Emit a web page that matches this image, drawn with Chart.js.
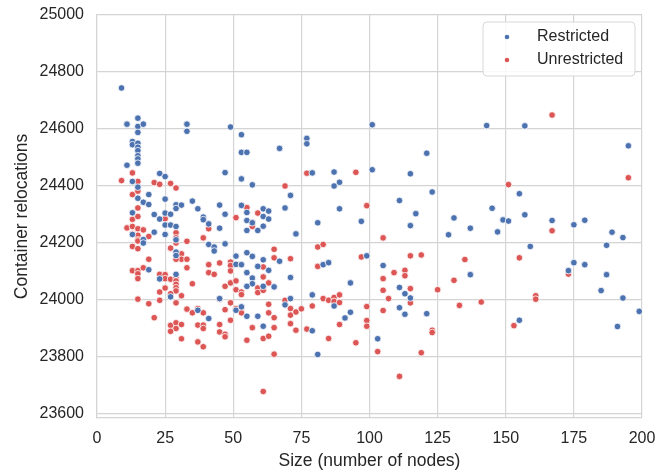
<!DOCTYPE html>
<html>
<head>
<meta charset="utf-8">
<script src="https://cdn.jsdelivr.net/npm/chart.js@4/dist/chart.umd.min.js"></script>
<style>
  html, body { margin: 0; padding: 0; background: #fff; }
</style>
</head>
<body>
<canvas id="chart" width="670" height="472"></canvas>
<script>
const xTicks = [0, 25, 50, 75, 100, 125, 150, 175, 200];
const yTicks = [23600, 23800, 24000, 24200, 24400, 24600, 24800, 25000];
const seriesNames = ['Restricted', 'Unrestricted'];
const seriesColors = ['#4c72b0', '#dd5656'];

// [size, relocations]
const restricted = [
    [9,24744],[15,24638],[11,24617],[15,24609],[17,24617],[15,24588],[33,24617],[33,24592],[13,24556],[13,24545],
    [15,24550],[15,24536],[15,24524],[15,24506],[15,24495],[15,24480],[11,24473],[23,24444],[25,24433],[13,24416],
    [15,24396],[15,24357],[19,24370],[17,24343],[19,24335],[29,24334],[31,24333],[29,24321],[25,24354],[13,24306],
    [21,24300],[25,24305],[27,24301],[23,24284],[25,24263],[27,24263],[29,24258],[21,24238],[25,24230],[17,24212],
    [29,24211],[13,24230],[17,24200],[29,24168],[29,24156],[19,24106],[23,24074],[29,24090],[27,24011],
    [49,24607],[53,24580],[53,24518],[55,24518],[67,24532],[47,24447],[53,24425],[57,24404],[35,24347],[37,24320],
    [45,24333],[39,24291],[39,24282],[47,24301],[41,24267],[45,24252],[53,24332],[55,24307],[55,24279],[61,24320],
    [63,24312],[61,24293],[63,24284],[55,24244],[59,24244],[61,24259],[57,24271],
    [41,24195],[43,24186],[43,24172],[47,24197],[51,24154],[51,24125],[53,24124],[55,24166],[57,24153],[61,24141],
    [59,24118],[63,24104],[55,24096],[57,24077],[57,24057],[55,24048],[61,24048],[65,24046],[67,24136],[45,24005],
    [37,23964],[41,23935],[51,23964],[53,23976],[55,23943],[59,23943],[61,23908],
    [101,24615],[77,24567],[77,24548],[79,24446],[87,24449],[101,24457],[89,24413],[87,24400],[71,24367],[69,24323],
    [89,24320],[81,24271],[97,24276],[73,24232],
    [83,24124],[85,24131],[71,24079],[93,24060],[99,24155],[79,24018],[71,24005],[69,23983],[87,23979],[93,23957],
    [91,23937],[79,23892],[81,23809],
    [143,24612],[121,24515],[115,24443],[123,24379],[111,24349],[117,24303],[115,24261],[145,24322],[131,24288],
    [137,24252],[149,24281],[151,24277],[129,24229],[147,24239],
    [105,24121],[137,24089],[111,24044],[113,24022],[115,24007],[111,23973],[113,23950],[121,23952],[103,23864],
    [157,24611],[195,24541],[155,24373],[157,24299],[167,24279],[175,24264],[179,24280],[189,24238],[193,24219],
    [159,24188],[175,24131],[179,24124],[173,24103],[187,24192],[187,24089],[185,24033],[193,24007],[199,23960],
    [155,23929],[191,23907]
];

const unrestricted = [
    [13,24446],[9,24419],[15,24416],[21,24412],[23,24406],[27,24409],[29,24393],[13,24370],[15,24382],[15,24323],
    [13,24283],[15,24293],[25,24285],[11,24253],[13,24258],[15,24250],[17,24246],[13,24232],[15,24227],[19,24223],
    [29,24236],[15,24211],
    [15,24207],[13,24188],[15,24180],[27,24182],[29,24200],[29,24218],[31,24162],[33,24206],[31,24143],[33,24143],
    [33,24113],[29,24143],[19,24143],[13,24103],[15,24103],[17,24113],[15,24092],[15,24075],[23,24090],[25,24089],
    [25,24075],[27,24073],[29,24078],[29,24067],[29,24055],[29,24043],[29,24032],[25,24042],[23,24028],[27,24022],
    [31,24015],[29,23990],[15,24003],[19,23987],[23,23999],[33,23968],[21,23938],[27,23911],[29,23920],[31,23914],
    [29,23900],[27,23890],[31,23864],
    [55,24324],[59,24305],[51,24289],[57,24273],[57,24258],[41,24250],[39,24218],
    [41,24124],[45,24130],[41,24096],[43,24090],[35,24057],[49,24133],[49,24121],[49,24102],[47,24048],[49,24060],
    [51,24067],[51,24036],[53,24028],[53,24019],[59,24042],[59,24026],[61,24081],[61,24116],[61,24034],[63,24060],
    [65,24178],[65,24148],[35,23955],[37,23970],[39,23955],[45,24003],[49,23990],[47,23966],[37,23912],[39,23912],
    [39,23900],[45,23914],[45,23888],[47,23880],[47,23871],[49,23929],[51,23970],[53,23970],[53,23955],[37,23853],
    [39,23836],[63,23985],[63,23955],[65,23938],[65,23903],[57,23903],[61,23865],[63,23873],[55,23859],[65,23810],
    [61,23679],
    [77,24445],[95,24448],[69,24400],[99,24331],
    [81,24186],[83,24195],[71,24145],[81,24118],[97,24151],[69,23999],[71,23970],[71,23947],[73,23958],[75,23969],
    [71,23917],[73,23894],[77,23898],[79,23979],[83,24005],[85,23999],[87,24009],[87,23995],[89,24018],[89,23991],
    [89,23914],[85,23865],[95,23850],[99,23977],[99,23928],[99,23908],
    [151,24405],[105,24218],
    [115,24155],[119,24158],[135,24142],[109,24096],[113,24104],[113,24085],[105,24075],[131,24069],[105,24034],
    [115,24040],[125,24036],[107,24005],[115,23990],[133,23981],[141,23993],[105,23963],[123,23894],[123,23886],
    [103,23819],[119,23815],[111,23732],
    [167,24649],[195,24429],[167,24243],
    [155,24148],[173,24091],[161,24015],[161,24003],[153,23910]
];

const textColor = '#262626';
const gridColor = '#d4d4d4';

// seaborn-like legend box inside the plot, upper right
const legendBox = {
    id: 'legendBox',
    afterDraw(chart) {
        const ctx = chart.ctx;
        const area = chart.chartArea;
        const w = 152, h = 54;
        const x = area.right - w - 7, y = area.top + 7;
        ctx.save();
        ctx.beginPath();
        ctx.roundRect(x, y, w, h, 4);
        ctx.fillStyle = 'rgba(255,255,255,0.85)';
        ctx.fill();
        ctx.strokeStyle = '#d8d8d8';
        ctx.lineWidth = 1;
        ctx.stroke();
        ctx.font = '16px "Liberation Sans", Arial, sans-serif';
        ctx.textBaseline = 'middle';
        chart.data.datasets.forEach((ds, i) => {
            const cy = y + 15 + i * 23;
            ctx.beginPath();
            ctx.arc(x + 24, cy, 2.3, 0, Math.PI * 2);
            ctx.fillStyle = ds.backgroundColor;
            ctx.fill();
            ctx.fillStyle = textColor;
            ctx.fillText(ds.label, x + 54, cy);
        });
        ctx.restore();
    }
};

const toPoints = arr => arr.map(p => ({ x: p[0], y: p[1] }));

new Chart(document.getElementById('chart'), {
    type: 'scatter',
    data: {
        datasets: [
            {
                label: seriesNames[0],
                data: toPoints(restricted),
                backgroundColor: seriesColors[0],
                borderColor: '#ffffff',
                borderWidth: 0.8,
                pointRadius: 3.3
            },
            {
                label: seriesNames[1],
                data: toPoints(unrestricted),
                backgroundColor: seriesColors[1],
                borderColor: '#ffffff',
                borderWidth: 0.8,
                pointRadius: 3.3
            }
        ]
    },
    options: {
        responsive: false,
        animation: false,
        devicePixelRatio: 1,
        layout: {
            padding: { left: 0, right: 28, top: 15, bottom: 0 }
        },
        plugins: {
            legend: { display: false },
            tooltip: { enabled: false }
        },
        scales: {
            x: {
                type: 'linear',
                min: 0,
                max: 200,
                afterBuildTicks: scale => { scale.ticks = xTicks.map(v => ({ value: v })); },
                afterFit: scale => { scale.height = 54; },
                ticks: {
                    color: textColor,
                    padding: 11,
                    font: { family: '"Liberation Sans", Arial, sans-serif', size: 16 }
                },
                grid: { color: gridColor, lineWidth: 1.2, drawTicks: false },
                border: { color: gridColor, width: 1.2 },
                title: {
                    display: true,
                    text: 'Size (number of nodes)',
                    color: textColor,
                    padding: { top: 0, bottom: 0 },
                    font: { family: '"Liberation Sans", Arial, sans-serif', size: 17.5 }
                }
            },
            y: {
                min: 23586,
                max: 25000,
                afterBuildTicks: scale => { scale.ticks = yTicks.map(v => ({ value: v })); },
                afterFit: scale => {
                    scale.width = 97;
                    scale.paddingTop = 0;
                    scale.paddingBottom = 0;
                },
                ticks: {
                    color: textColor,
                    padding: 13,
                    callback: value => String(value),
                    font: { family: '"Liberation Sans", Arial, sans-serif', size: 16 }
                },
                grid: { color: gridColor, lineWidth: 1.2, drawTicks: false },
                border: { color: gridColor, width: 1.2 },
                title: {
                    display: true,
                    text: 'Container relocations',
                    color: textColor,
                    padding: { top: 12, bottom: 0 },
                    font: { family: '"Liberation Sans", Arial, sans-serif', size: 17.5 }
                }
            }
        }
    },
    plugins: [legendBox]
});
</script>
</body>
</html>
